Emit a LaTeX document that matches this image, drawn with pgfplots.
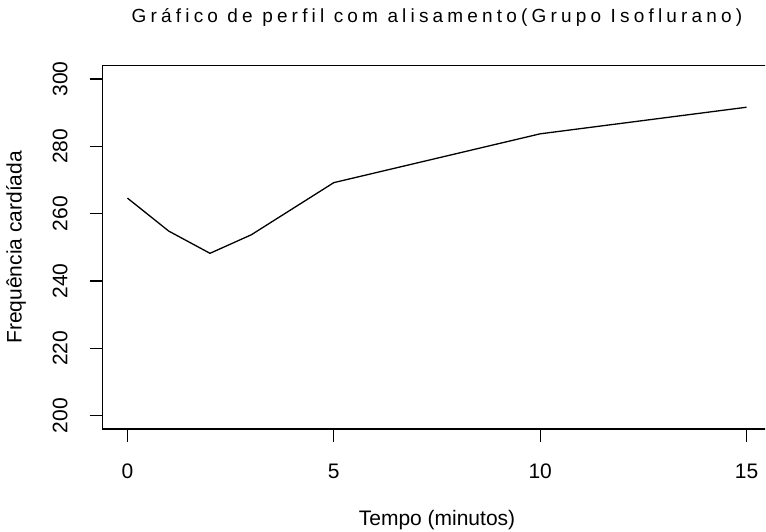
\documentclass[border=0pt]{standalone}
\usepackage{fontspec}
\setmainfont{Liberation Sans}
\usepackage{pgfplots}
\pgfplotsset{compat=1.18}

\begin{document}
\begin{tikzpicture}
\useasboundingbox (0,0) rectangle (766bp,532bp);
\clip (0,0) rectangle (765bp,532bp);
\begin{axis}[
    at={(102.7bp,103bp)}, anchor=south west,
    scale only axis,
    width=668.6bp, height=363.5bp,
    xmin=-0.6, xmax=15.6,
    ymin=196, ymax=304,
    xtick={0,5,10,15},
    ytick={200,220,...,300},
    tick align=outside,
    xtick pos=bottom, ytick pos=left,
    major tick length=13bp,
    axis line style={line width=1.4bp},
    every tick/.style={black, line width=1.2bp},
    /pgf/number format/assume math mode=true,
    tick label style={font=\fontsize{21bp}{24bp}\selectfont},
    xticklabel style={anchor=north, inner xsep=0pt, inner ysep=22bp},
    yticklabel style={rotate=90, anchor=south, inner xsep=0pt, inner ysep=22bp},
    title={\addfontfeature{LetterSpace=22}Gráfico de perfil com alisamento(Grupo Isoflurano)},
    title style={at={(axis description cs:0.5,1)}, anchor=base, yshift=37bp,
        font=\fontsize{19bp}{22bp}\selectfont},
    xlabel={Tempo (minutos)},
    xlabel style={at={(axis description cs:0.5,0)}, anchor=base, yshift=-96bp,
        font=\fontsize{21bp}{24bp}\selectfont},
    ylabel={Frequência cardíada},
    ylabel style={at={(axis description cs:-0.1214,0.5)}, anchor=base,
        font=\fontsize{21bp}{24bp}\selectfont},
]
\addplot[black, line width=1.3bp, sharp plot] coordinates {
    (0,264.6) (1,254.8) (2,248.2) (3,253.7) (5,269.2) (10,283.7) (15,291.6)
};
\end{axis}
\end{tikzpicture}
\end{document}
